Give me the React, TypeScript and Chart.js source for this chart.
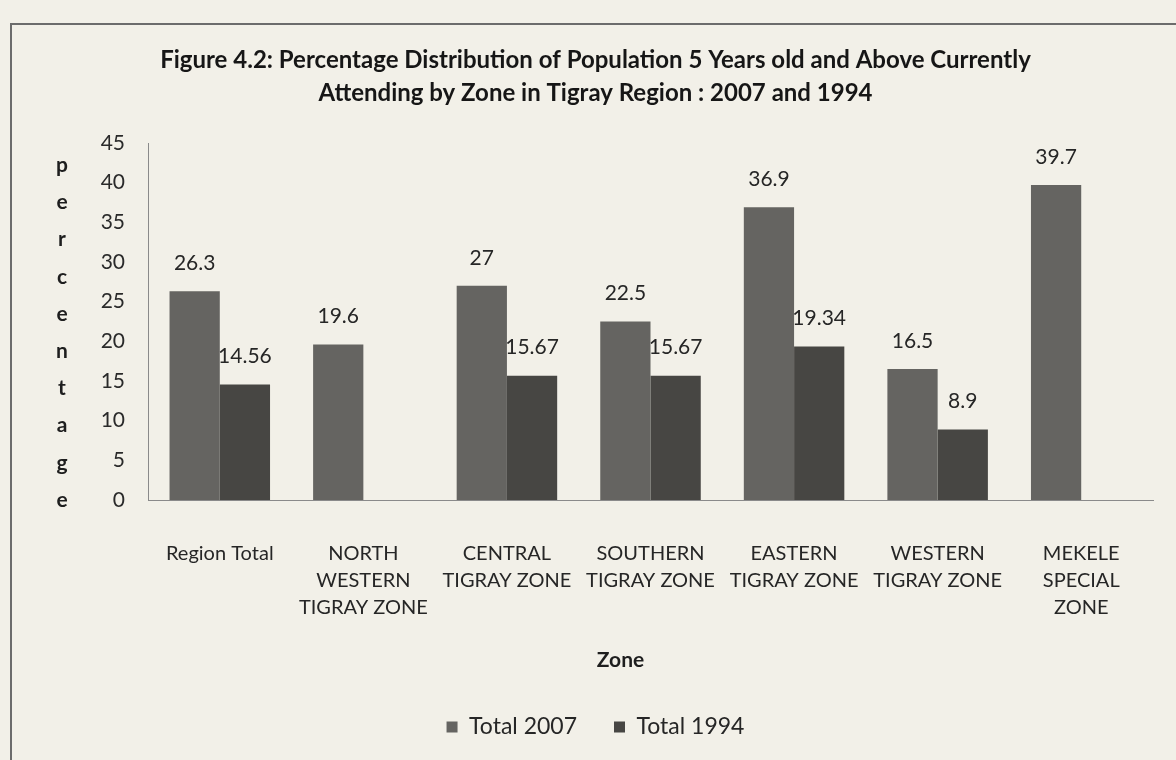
import React, { useEffect, useRef } from "react";
import { Chart, registerables } from "chart.js";

Chart.register(...registerables);

const zoneLabels: (string | string[])[] = [
  "Region Total",
  ["NORTH", "WESTERN", "TIGRAY ZONE"],
  ["CENTRAL", "TIGRAY ZONE"],
  ["SOUTHERN", "TIGRAY ZONE"],
  ["EASTERN", "TIGRAY ZONE"],
  ["WESTERN", "TIGRAY ZONE"],
  ["MEKELE", "SPECIAL", "ZONE"],
];
const total2007: (number | null)[] = [26.3, 19.6, 27, 22.5, 36.9, 16.5, 39.7];
const total1994: (number | null)[] = [14.56, null, 15.67, 15.67, 19.34, 8.9, null];
const seriesNames = ["Total 2007", "Total 1994"];
const titleLines = [
  "Figure 4.2: Percentage Distribution of Population 5 Years old and Above Currently",
  "Attending by Zone in Tigray Region : 2007 and 1994",
];
const yAxisTitle = "percentage";
const xAxisTitle = "Zone";
const yMin = 0;
const yMax = 45;
const yStep = 5;

const FONT = "Lato, 'Open Sans', sans-serif";

const overlayPlugin = {
  id: "overlay",
  afterDatasetsDraw(chart: any) {
    const ctx = chart.ctx as CanvasRenderingContext2D;
    ctx.save();
    ctx.font = `21px ${FONT}`;
    ctx.fillStyle = "#262626";
    ctx.textAlign = "center";
    ctx.textBaseline = "middle";
    chart.data.datasets.forEach((ds: any, i: number) => {
      const meta = chart.getDatasetMeta(i);
      meta.data.forEach((el: any, j: number) => {
        const v = ds.data[j];
        if (v === null || v === undefined) return;
        ctx.fillText(String(v), el.x, el.y - 28);
      });
    });
    // stacked y-axis title letters
    ctx.font = `bold 21px ${FONT}`;
    ctx.fillStyle = "#1e1e1e";
    const letters = yAxisTitle.split("");
    const step = 37.2;
    const bottom = chart.chartArea.bottom;
    letters.forEach((ch, k) => {
      const y = bottom - (letters.length - 1 - k) * step;
      ctx.fillText(ch, 50, y);
    });
    // x-axis title, placed slightly left of plot centre as in the original
    const xs = chart.scales.x;
    const cx = (chart.chartArea.left + chart.chartArea.right) / 2 - 30;
    ctx.fillText(xAxisTitle, cx, xs.bottom - 18);
    ctx.restore();
  },
};

export default function App() {
  const ref = useRef<HTMLCanvasElement | null>(null);

  useEffect(() => {
    if (!ref.current) return;
    const chart = new Chart(ref.current, {
      type: "bar",
      data: {
        labels: zoneLabels,
        datasets: [
          {
            label: seriesNames[0],
            data: total2007,
            backgroundColor: "#656461",
            borderWidth: 0,
          },
          {
            label: seriesNames[1],
            data: total1994,
            backgroundColor: "#474643",
            borderWidth: 0,
          },
        ],
      },
      options: {
        animation: false,
        responsive: false,
        maintainAspectRatio: false,
        layout: { padding: { left: 26, right: 23, top: 0, bottom: 11.5 } },
        datasets: {
          bar: { categoryPercentage: 0.7, barPercentage: 1.0 },
        },
        plugins: {
          title: {
            display: true,
            text: titleLines,
            color: "#161616",
            font: { family: FONT, size: 24, weight: "bold", lineHeight: 1.375 },
            padding: { top: 19, bottom: 33 },
          },
          legend: {
            display: true,
            position: "bottom",
            labels: {
              color: "#262626",
              font: { family: FONT, size: 23 },
              boxWidth: 11,
              boxHeight: 11,
              padding: 37,
            },
          },
          tooltip: { enabled: false },
        },
        scales: {
          x: {
            grid: { display: false, drawTicks: false },
            border: { display: true, color: "#8a8a8a", width: 1 },
            ticks: {
              color: "#262626",
              font: { family: FONT, size: 20, lineHeight: 1.35 },
              padding: 40,
              autoSkip: false,
              maxRotation: 0,
              minRotation: 0,
            },
            title: { display: false },
            afterFit(scale: any) {
              scale.height = 178.5;
            },
          },
          y: {
            min: yMin,
            max: yMax,
            grid: { display: false, drawTicks: false },
            border: { display: true, color: "#8a8a8a", width: 1 },
            ticks: {
              stepSize: yStep,
              color: "#2a2a2a",
              font: { family: FONT, size: 21 },
              padding: 23,
            },
            afterFit(scale: any) {
              scale.width = 110;
            },
          },
        },
      },
      plugins: [overlayPlugin],
    } as any);
    return () => chart.destroy();
  }, []);

  return (
    <div
      style={{
        position: "fixed",
        left: 0,
        top: 0,
        width: 1176,
        height: 760,
        background: "#f2f0e8",
        overflow: "hidden",
      }}
    >
      <div
        style={{
          position: "absolute",
          left: 10,
          top: 23,
          width: 1300,
          height: 900,
          borderLeft: "2px solid #6c6c6c",
          borderTop: "2px solid #6c6c6c",
        }}
      />
      <canvas
        ref={ref}
        width={1164}
        height={735}
        style={{ position: "absolute", left: 12, top: 25, width: 1164, height: 735 }}
      />
    </div>
  );
}
